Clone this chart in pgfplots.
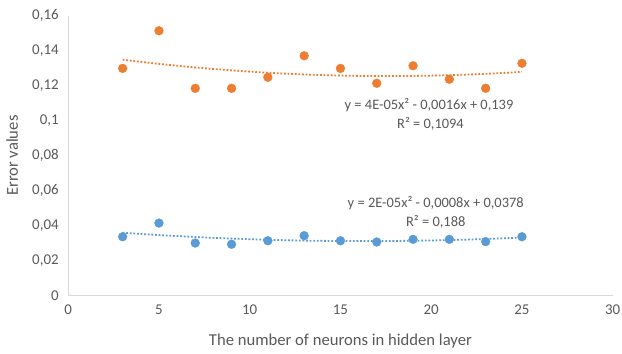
\documentclass[border=0pt]{standalone}
\usepackage{pgfplots}
\pgfplotsset{compat=1.18}
\usepackage{fontspec}
\setmainfont{Carlito}
\definecolor{xorange}{HTML}{ED7D31}
\definecolor{xblue}{HTML}{5B9BD5}
\definecolor{txt}{HTML}{595959}
\definecolor{axl}{HTML}{D9D9D9}
\begin{document}
\begin{tikzpicture}
\path[use as bounding box] (0,0) rectangle (622bp,354bp);
\begin{axis}[
  at={(68.2bp,58.3bp)}, anchor=south west,
  scale only axis, width=544.5bp, height=280bp,
  xmin=0, xmax=30, ymin=0, ymax=0.16,
  xtick={0,5,10,15,20,25,30},
  ytick={0,0.02,0.04,0.06,0.08,0.1,0.12,0.14,0.16},
  axis x line=bottom, axis y line=left,
  axis line style={draw=axl, line width=0.9bp, -},
  major tick length=0pt,
  scaled y ticks=false,
  /pgf/number format/fixed,
  /pgf/number format/precision=2,
  /pgf/number format/use comma,
  /pgf/number format/assume math mode=true,
  tick label style={font=\fontsize{15}{17}\selectfont, text=txt},
  yticklabel style={xshift=-6bp},
  xticklabel style={yshift=-6bp},
  xlabel={The number of neurons in hidden layer},
  ylabel={Error values},
  label style={font=\fontsize{16.7}{19}\selectfont, text=txt},
  xlabel style={at={(axis description cs:0.5,-0.1607)}, anchor=center},
  ylabel style={at={(axis description cs:-0.1028,0.5)}, anchor=center},
  clip=false,
]
% trendlines
\addplot[xorange, line width=1.8bp, dash pattern=on 1.8bp off 1.8bp] coordinates {
(3,0.13486) (4,0.13362) (5,0.13247) (6,0.13141) (7,0.13043) (8,0.12954)
(9,0.12874) (10,0.12803) (11,0.12740) (12,0.12687) (13,0.12642) (14,0.12606)
(15,0.12579) (16,0.12560) (17,0.12551) (18,0.12550) (19,0.12558) (20,0.12575)
(21,0.12600) (22,0.12635) (23,0.12678) (24,0.12730) (25,0.12791)};
\addplot[xblue, line width=1.8bp, dash pattern=on 1.8bp off 1.8bp] coordinates {
(3,0.03598) (4,0.03529) (5,0.03465) (6,0.03407) (7,0.03354) (8,0.03306)
(9,0.03264) (10,0.03227) (11,0.03196) (12,0.03170) (13,0.03149) (14,0.03134)
(15,0.03124) (16,0.03120) (17,0.03121) (18,0.03127) (19,0.03139) (20,0.03156)
(21,0.03178) (22,0.03206) (23,0.03240) (24,0.03278) (25,0.03322)};
% data
\addplot[only marks, mark=*, mark size=4.4bp, mark options={draw=xorange, fill=xorange}] coordinates {
(3,0.1299) (5,0.1514) (7,0.1185) (9,0.1185) (11,0.1248) (13,0.1371)
(15,0.1299) (17,0.1214) (19,0.1314) (21,0.1237) (23,0.1185) (25,0.1328)};
\addplot[only marks, mark=*, mark size=4.4bp, mark options={draw=xblue, fill=xblue}] coordinates {
(3,0.0337) (5,0.0415) (7,0.0301) (9,0.0294) (11,0.0314) (13,0.0343)
(15,0.0314) (17,0.0307) (19,0.0322) (21,0.0322) (23,0.0309) (25,0.0337)};
\node[font=\fontsize{14.5}{17}\selectfont, text=txt] at (axis cs:19.88,0.109) {y = 4E-05x² - 0,0016x + 0,139};
\node[font=\fontsize{14.5}{17}\selectfont, text=txt] at (axis cs:19.96,0.0981) {R² = 0,1094};
\node[font=\fontsize{14.5}{17}\selectfont, text=txt] at (axis cs:20.25,0.0531) {y = 2E-05x² - 0,0008x + 0,0378};
\node[font=\fontsize{14.5}{17}\selectfont, text=txt] at (axis cs:20.25,0.0423) {R² = 0,188};
\end{axis}
\end{tikzpicture}
\end{document}
